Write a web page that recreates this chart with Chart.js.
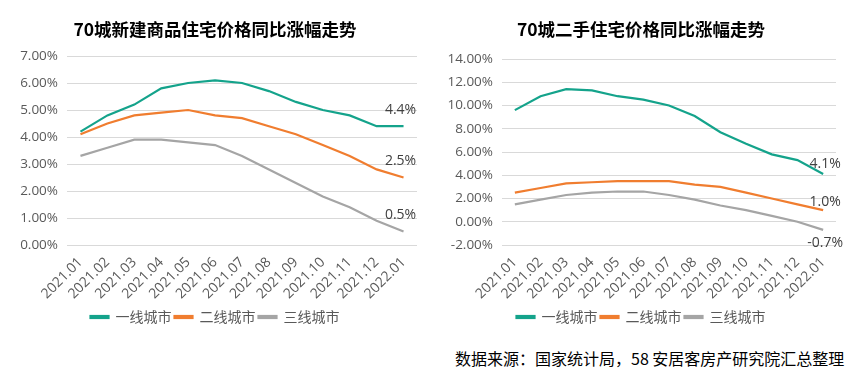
<!DOCTYPE html>
<html>
<head>
<meta charset="utf-8">
<script src="https://cdn.jsdelivr.net/npm/chart.js@4.4.1/dist/chart.umd.min.js"></script>
<style>
  html, body { margin: 0; padding: 0; background: #ffffff; }
  body { width: 861px; height: 378px; position: relative; overflow: hidden; }
  .box { position: absolute; top: 0; height: 338px; }
  #leftBox { left: 0; width: 430px; }
  #rightBox { left: 430px; width: 431px; }
  #source {
    position: absolute; left: 455px; top: 347px;
    font-family: "Noto Sans CJK SC", sans-serif; font-size: 16px; color: #000;
    white-space: nowrap; line-height: 22px;
  }
</style>
</head>
<body>
<div class="box" id="leftBox"><canvas id="leftChart"></canvas></div>
<div class="box" id="rightBox"><canvas id="rightChart"></canvas></div>
<div id="source">数据来源：国家统计局，58 安居客房产研究院汇总整理</div>
<script>
// ---- data ----
const months = ["2021.01","2021.02","2021.03","2021.04","2021.05","2021.06","2021.07","2021.08","2021.09","2021.10","2021.11","2021.12","2022.01"];
const seriesNames = ["一线城市","二线城市","三线城市"];

const newTier1 = [4.2, 4.8, 5.2, 5.8, 6.0, 6.1, 6.0, 5.7, 5.3, 5.0, 4.8, 4.4, 4.4];
const newTier2 = [4.1, 4.5, 4.8, 4.9, 5.0, 4.8, 4.7, 4.4, 4.1, 3.7, 3.3, 2.8, 2.5];
const newTier3 = [3.3, 3.6, 3.9, 3.9, 3.8, 3.7, 3.3, 2.8, 2.3, 1.8, 1.4, 0.9, 0.5];

const usedTier1 = [9.6, 10.8, 11.4, 11.3, 10.8, 10.5, 10.0, 9.1, 7.7, 6.7, 5.8, 5.3, 4.1];
const usedTier2 = [2.5, 2.9, 3.3, 3.4, 3.5, 3.5, 3.5, 3.2, 3.0, 2.5, 2.0, 1.5, 1.0];
const usedTier3 = [1.5, 1.9, 2.3, 2.5, 2.6, 2.6, 2.3, 1.9, 1.4, 1.0, 0.5, 0.0, -0.7];

const leftTitle = "70城新建商品住宅价格同比涨幅走势";
const rightTitle = "70城二手住宅价格同比涨幅走势";
const leftEndLabels = ["4.4%", "2.5%", "0.5%"];
const rightEndLabels = ["4.1%", "1.0%", "-0.7%"];

// ---- styles ----
const colors = ["#14A38B", "#F07D2F", "#A5A5A5"];
const numFont = "'Open Sans', 'Noto Sans CJK SC', sans-serif";
const cjkFont = "'Noto Sans CJK SC', sans-serif";

const endLabelPlugin = {
  id: 'endLabels',
  afterDatasetsDraw(chart, args, opts) {
    const ctx = chart.ctx;
    ctx.save();
    ctx.font = "14px " + numFont;
    ctx.fillStyle = "#404040";
    ctx.textAlign = "center";
    ctx.textBaseline = "middle";
    chart.data.datasets.forEach((ds, i) => {
      const meta = chart.getDatasetMeta(i);
      const pt = meta.data[meta.data.length - 1];
      const off = opts.offsets[i];
      ctx.fillText(opts.labels[i], pt.x + off[0], pt.y + off[1]);
    });
    ctx.restore();
  }
};

function makeChart(id, title, data, endLabels, yMin, yMax, yStep, yWidth, padLeft, padRight, titlePad, offsets) {
  new Chart(document.getElementById(id), {
    type: 'line',
    data: {
      labels: months,
      datasets: data.map((d, i) => ({
        label: seriesNames[i],
        data: d,
        borderColor: colors[i],
        backgroundColor: colors[i],
        borderWidth: 2.2,
        pointRadius: 0,
        pointHoverRadius: 0,
        tension: 0,
        fill: false
      }))
    },
    options: {
      responsive: true,
      maintainAspectRatio: false,
      animation: false,
      layout: { padding: { left: padLeft, right: padRight, top: 0, bottom: 4 } },
      plugins: {
        title: {
          display: true,
          text: title,
          color: "#000000",
          font: { family: cjkFont, size: 17.5, weight: 'bold' },
          padding: titlePad
        },
        legend: {
          position: 'bottom',
          labels: {
            boxWidth: 18,
            boxHeight: 2,
            padding: 3,
            color: "#595959",
            font: { family: cjkFont, size: 14 }
          }
        },
        tooltip: { enabled: false },
        endLabels: { labels: endLabels, offsets: offsets }
      },
      scales: {
        x: {
          offset: true,
          grid: { display: false, drawTicks: false },
          border: { display: false },
          ticks: {
            color: "#595959",
            font: { family: numFont, size: 14 },
            minRotation: 45, maxRotation: 45,
            padding: 9,
            autoSkip: false
          },
          afterFit(scale) { scale.height = 62; }
        },
        y: {
          min: yMin, max: yMax,
          grid: { color: "#D9D9D9", lineWidth: 1, drawTicks: false },
          border: { display: false },
          ticks: {
            stepSize: yStep,
            color: "#595959",
            font: { family: numFont, size: 13.5 },
            padding: 9,
            callback: v => v.toFixed(2) + "%"
          },
          afterFit(scale) { scale.width = yWidth; }
        }
      }
    },
    plugins: [endLabelPlugin]
  });
}

makeChart('leftChart', leftTitle, [newTier1, newTier2, newTier3], leftEndLabels,
  0, 7, 1, 54, 13, 13, { top: 19, bottom: 16 }, [[-3, -16], [-3, -16], [-3, -16]]);
makeChart('rightChart', rightTitle, [usedTier1, usedTier2, usedTier3], rightEndLabels,
  -2, 14, 2, 56, 16, 25, { top: 19, bottom: 19 }, [[2, -10], [2, -8], [2, 13]]);
</script>
</body>
</html>
